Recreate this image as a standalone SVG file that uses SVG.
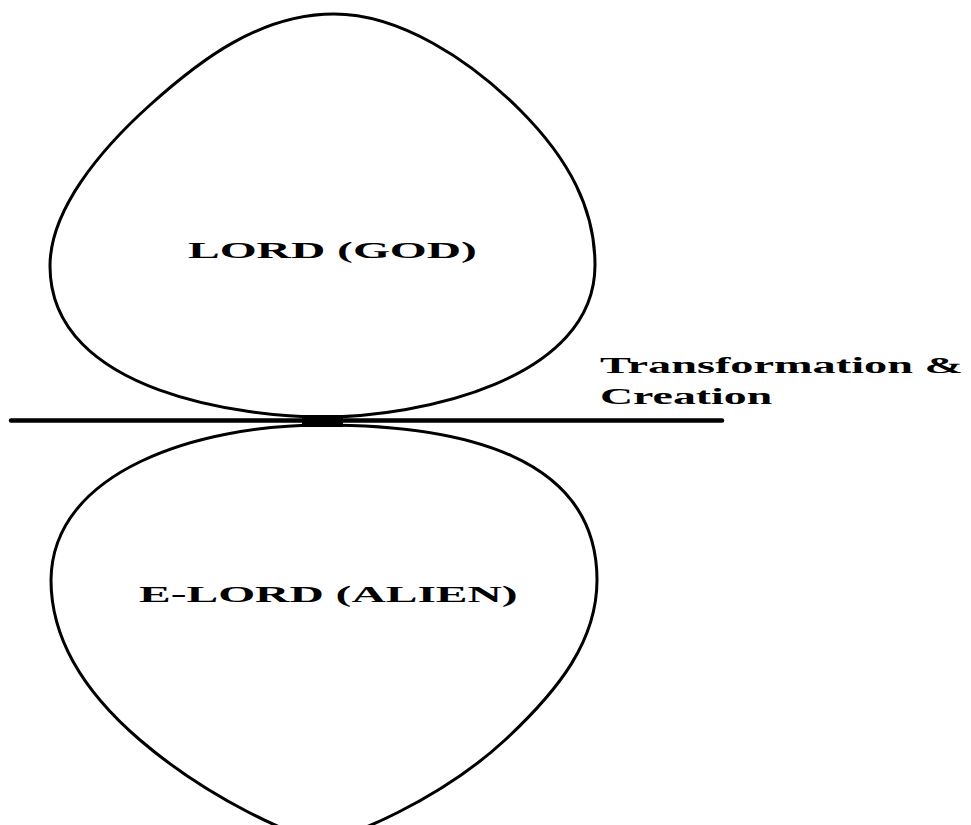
<svg xmlns="http://www.w3.org/2000/svg" width="971" height="825" viewBox="0 0 971 825">
<style>
.shape{fill:none;stroke:#000;stroke-width:3;stroke-linejoin:round}
.lbl{font-family:"Liberation Serif","Times New Roman",serif;font-weight:bold;font-size:24px;fill:#000}
</style>
<rect x="0" y="0" width="971" height="825" fill="#fff"/>
<g id="node-lord">
<path class="shape" d="M322 417 C250 417 50 395 50 266 C50 210 100 150 150 105 C200 60 260 14 334 14 C400 14 470 60 520 110 C570 160 595 210 595 265 C595 380 420 417 322 417 Z"/>
<text class="lbl" transform="translate(188 257.7) scale(1.98 1)">LORD (GOD)</text>
</g>
<g id="node-elord">
<path class="shape" d="M322 425 C200 425 52 470 51 580 C51 640 84 692 140 740 C210 800 300 840 322 840 C345 840 440 800 505 740 C560 689 597 640 597 580 C597 455 460 425 322 425 Z"/>
<text class="lbl" transform="translate(139 601.7) scale(1.98 1)">E-LORD (ALIEN)</text>
</g>
<g id="connectors">
<line x1="11" y1="420.5" x2="722" y2="420.5" stroke="#000" stroke-width="4.5" stroke-linecap="round"/>
<rect x="302" y="415" width="41" height="12" fill="#000"/>
</g>
<g id="node-transformation">
<text class="lbl" transform="translate(600 373.3) scale(1.93 1)">Transformation &amp;</text>
<text class="lbl" transform="translate(600 404.3) scale(1.91 1)">Creation</text>
</g>
</svg>
